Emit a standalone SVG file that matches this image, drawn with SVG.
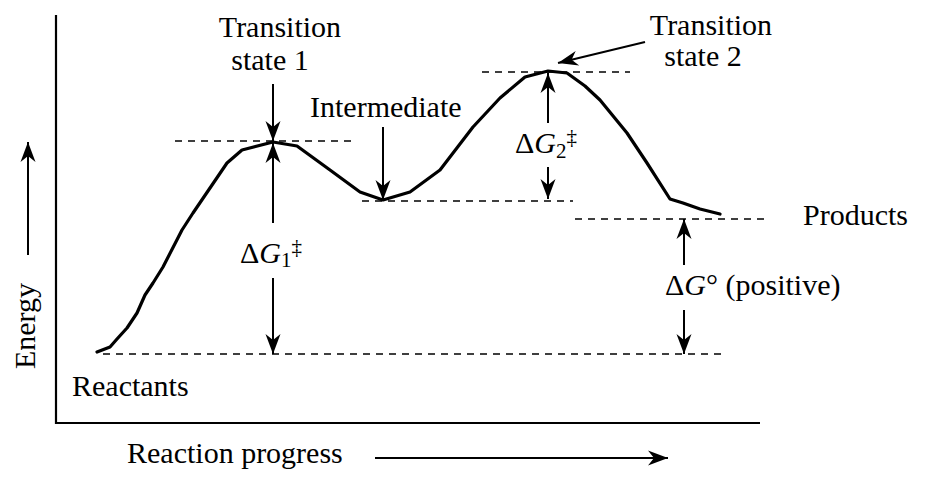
<svg xmlns="http://www.w3.org/2000/svg" width="926" height="479" viewBox="0 0 926 479">
<defs>
<marker id="ah" markerWidth="24" markerHeight="16" viewBox="-22 -8 24 16" refX="0" refY="0" orient="auto" markerUnits="userSpaceOnUse">
<path d="M0,0 L-20,-7.5 L-14,0 L-20,7.5 Z" fill="#000"/>
</marker>
</defs>
<rect width="926" height="479" fill="#fff"/>
<g id="axes">
<path d="M56,15 V423 H760" stroke="#000" stroke-width="2.2" fill="none"/>
</g>
<g id="curve">
<polyline fill="none" stroke="#000" stroke-width="3.2" stroke-linejoin="round" stroke-linecap="round" points="97,352 110,347 117,339 127,328 137,313 145,295 153,283 163,267 182,230 193,213 210,188 227,163 242,150 273,142 297,146 330,170 360,192 383,200 410,192 440,170 473,127 500,98 525,77 548,71 567,73 585,86 600,100 627,133 647,163 670,199 683,203 700,209 720,214"/>
</g>
<g id="levels" stroke="#000" stroke-width="1.5" stroke-dasharray="7 6" fill="none">
<line x1="175" y1="141" x2="355" y2="141"/>
<line x1="362" y1="201" x2="573" y2="201"/>
<line x1="482" y1="72" x2="630" y2="72"/>
<line x1="575" y1="219" x2="768" y2="219"/>
<line x1="103" y1="354" x2="722" y2="354"/>
</g>
<g id="connectors" stroke="#000" stroke-width="2" fill="none">
<line x1="28" y1="255" x2="28" y2="142" marker-end="url(#ah)"/>
<line x1="375" y1="458" x2="668" y2="458" marker-end="url(#ah)"/>
<line x1="273" y1="84" x2="273" y2="141" marker-end="url(#ah)"/>
<line x1="273" y1="223" x2="273" y2="143" marker-end="url(#ah)"/>
<line x1="273" y1="278" x2="273" y2="354" marker-end="url(#ah)"/>
<line x1="383" y1="127" x2="383" y2="200" marker-end="url(#ah)"/>
<line x1="645" y1="42" x2="558" y2="63" marker-end="url(#ah)"/>
<line x1="548" y1="123" x2="548" y2="73" marker-end="url(#ah)"/>
<line x1="548" y1="167" x2="548" y2="199" marker-end="url(#ah)"/>
<line x1="684" y1="265" x2="684" y2="219" marker-end="url(#ah)"/>
<line x1="684" y1="310" x2="684" y2="354" marker-end="url(#ah)"/>
</g>
<g font-family="Liberation Serif, Times New Roman, serif" font-size="30" fill="#000">
<g id="ts1">
<text x="280" y="37" text-anchor="middle">Transition</text>
<text x="270" y="70" text-anchor="middle">state 1</text>
</g>
<g id="ts2">
<text x="711" y="35" text-anchor="middle">Transition</text>
<text x="703" y="66" text-anchor="middle">state 2</text>
</g>
<g id="intermediate">
<text x="310" y="117">Intermediate</text>
</g>
<g id="products">
<text x="803" y="225">Products</text>
</g>
<g id="reactants">
<text x="72" y="396">Reactants</text>
</g>
<g id="dg1">
<text x="240" y="263">Δ<tspan font-style="italic">G</tspan><tspan font-size="21" dy="4">1</tspan><tspan font-size="21" dy="-13">‡</tspan></text>
</g>
<g id="dg2">
<text x="515" y="153">Δ<tspan font-style="italic">G</tspan><tspan font-size="21" dy="5">2</tspan><tspan font-size="21" dy="-14">‡</tspan></text>
</g>
<g id="dg0">
<text x="665" y="295">Δ<tspan font-style="italic">G</tspan>° (positive)</text>
</g>
<g id="labels">
<text x="35" y="326" text-anchor="middle" transform="rotate(-90 35 326)">Energy</text>
<text x="127" y="463">Reaction progress</text>
</g>
</g>
</svg>
